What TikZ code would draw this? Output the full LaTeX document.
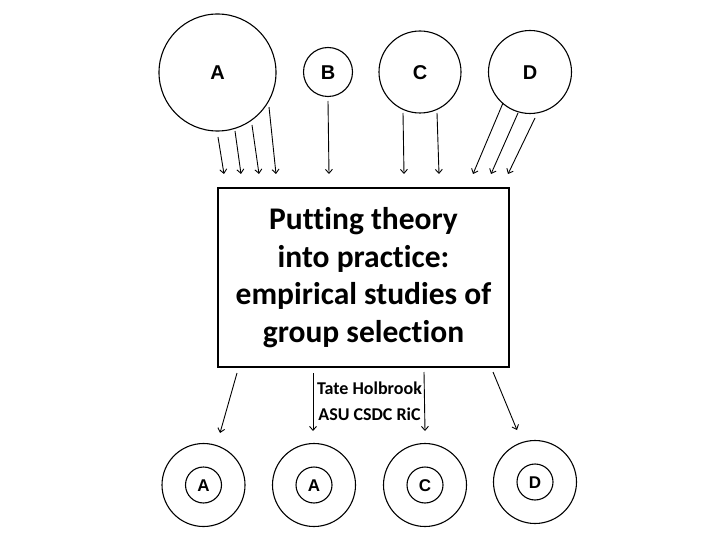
\documentclass[tikz,border=0pt]{standalone}
\usepackage{fontspec}
\setmainfont{Carlito}[Ligatures=NoCommon]
\newfontfamily\lettfont{Liberation Sans}
\usetikzlibrary{arrows.meta}
\begin{document}
\begin{tikzpicture}[x=1pt,y=-1pt,
  grp/.style={draw,circle,line width=1.1pt,inner sep=0pt,text height=14.3pt,text depth=0pt,font=\lettfont\bfseries\fontsize{20}{20}\selectfont},
  sgrp/.style={draw,circle,line width=1.1pt,inner sep=0pt,text height=12.2pt,text depth=0pt,font=\lettfont\bfseries\fontsize{17}{17}\selectfont},
  ring/.style={draw,circle,line width=1.1pt,inner sep=0pt,minimum size=83pt},
  arr/.style={line width=0.9pt,-{Straight Barb[length=4pt,width=7pt]}}]
\useasboundingbox (0,0) rectangle (720,540);
% top groups
\node[grp,minimum size=117pt] (A) at (217.5,72.5) {A};
\node[grp,minimum size=49pt] (B) at (328,72) {B};
\node[grp,minimum size=82pt] (C) at (420,72) {C};
\node[grp,minimum size=83pt] (D) at (530,72) {D};
% central box
\node[draw,line width=1.1pt,minimum width=291pt,minimum height=179pt,align=center,
  font=\bfseries\fontsize{31.5}{37.5}\selectfont] (box) at (363.5,277.5)
  {Putting theory\\into practice:\\empirical studies of\\group selection};
\node[align=center,font=\bfseries\fontsize{18}{26}\selectfont] (auth) at (369.5,401)
  {Tate Holbrook\\ASU CSDC RiC};
% arrows into box
\foreach \i/\sx/\sy/\ex in {a1/218/137/224, a2/235/131/241, a3/252/125/259, a4/269/107/276,
  b1/328/101/329, c1/403/113/404, c2/437/113/439,
  d1/503/103/473, d2/518/113/491, d3/535/118/508}{
  \coordinate (s\i) at (\sx,\sy);
  \coordinate (e\i) at (\ex,174);
  \draw[arr] (s\i) -- (e\i);
}
% bottom groups
\node[ring] (R1) at (203.5,485) {};
\node[sgrp,minimum size=36pt] (g1) at (R1) {A};
\node[ring] (R2) at (314,485) {};
\node[sgrp,minimum size=36pt] (g2) at (R2) {A};
\node[ring] (R3) at (425,485) {};
\node[sgrp,minimum size=36pt] (g3) at (R3) {C};
\node[ring] (R4) at (535,482) {};
\node[sgrp,minimum size=36pt] (g4) at (R4) {D};
% arrows out of box
\foreach \i/\sx/\sy/\ex/\ey in {o1/237/373/220/433, o2/313/373/313/431, o3/424/372/425/431, o4/493/372/517/430}{
  \coordinate (s\i) at (\sx,\sy);
  \coordinate (e\i) at (\ex,\ey);
  \draw[arr] (s\i) -- (e\i);
}
\end{tikzpicture}
\end{document}
